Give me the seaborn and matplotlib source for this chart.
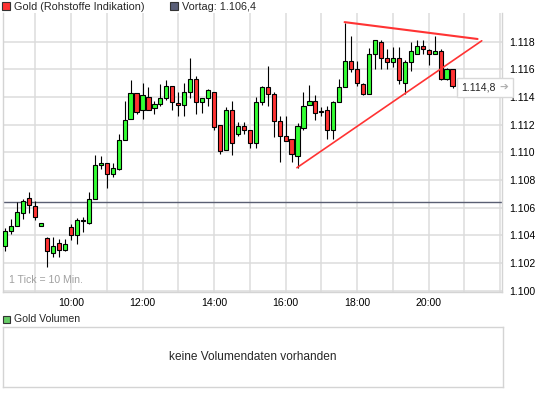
import matplotlib
matplotlib.use("Agg")
import matplotlib.pyplot as plt
from matplotlib.patches import Rectangle
import seaborn as sns
import numpy as np

# 10-minute candles, Gold (Rohstoffe Indikation), first candle 8:10
opens = [1103.2, 1104.3, 1104.7, 1105.6, 1106.7, 1106.1, 1104.65, 1103.8, 1102.75, 1103.45,
         1102.95, 1104.6, 1104.0, 1105.1, 1104.9, 1106.6, 1109.1, 1109.2, 1108.4, 1108.8,
         1110.9, 1112.4, 1114.3, 1113.1, 1114.0, 1113.2, 1113.5, 1113.9, 1114.8, 1113.6,
         1113.45, 1114.4, 1115.3, 1113.65, 1113.9, 1114.4, 1112.0, 1110.2, 1113.1, 1111.3,
         1111.9, 1111.6, 1110.65, 1113.65, 1114.7, 1114.2, 1112.3, 1111.15, 1111.0, 1109.75,
         1111.75, 1113.45, 1113.7, 1112.95, 1113.1, 1111.65, 1113.65, 1114.7, 1116.6, 1116.05,
         1114.95, 1114.25, 1117.1, 1118.0, 1116.85, 1116.5, 1116.85, 1115.05, 1116.55, 1117.15,
         1117.7, 1117.4, 1117.1, 1117.35, 1115.3, 1116.05]
highs = [1104.5, 1105.2, 1106.4, 1106.6, 1107.1, 1106.5, 1104.9, 1103.9, 1103.9, 1103.7,
         1103.75, 1104.85, 1105.25, 1105.3, 1107.1, 1109.8, 1109.75, 1109.2, 1109.2, 1111.3,
         1113.7, 1115.2, 1114.3, 1115.0, 1114.75, 1113.75, 1114.95, 1115.2, 1114.8, 1114.4,
         1115.0, 1116.85, 1115.5, 1113.9, 1114.6, 1114.4, 1112.0, 1113.25, 1113.7, 1112.2,
         1112.2, 1111.6, 1114.0, 1114.8, 1116.25, 1114.4, 1112.6, 1112.65, 1111.0, 1112.1,
         1114.4, 1114.9, 1114.15, 1113.3, 1113.35, 1113.7, 1115.3, 1119.35, 1118.45, 1116.6,
         1115.0, 1117.55, 1118.15, 1118.15, 1117.45, 1117.65, 1117.65, 1116.7, 1118.0, 1118.15,
         1118.1, 1117.5, 1118.4, 1117.45, 1116.1, 1116.05]
lows = [1102.9, 1104.1, 1104.7, 1105.2, 1105.6, 1105.1, 1104.65, 1101.7, 1102.4, 1102.4,
        1102.85, 1103.65, 1103.4, 1104.25, 1104.85, 1106.6, 1108.8, 1107.4, 1108.2, 1108.7,
        1110.9, 1112.4, 1112.8, 1112.4, 1113.1, 1112.8, 1113.35, 1113.8, 1113.1, 1112.65,
        1112.6, 1113.95, 1112.8, 1112.85, 1113.35, 1111.6, 1109.85, 1110.15, 1109.8, 1111.15,
        1111.35, 1110.35, 1110.35, 1113.4, 1113.35, 1111.1, 1109.3, 1110.85, 1109.3, 1108.85,
        1111.65, 1113.45, 1112.35, 1112.6, 1110.95, 1110.95, 1113.65, 1114.7, 1115.8, 1114.8,
        1114.15, 1114.25, 1116.05, 1116.05, 1116.05, 1116.2, 1114.95, 1114.25, 1115.9, 1117.15,
        1117.15, 1116.35, 1117.1, 1115.2, 1115.2, 1114.65]
closes = [1104.3, 1104.7, 1105.7, 1106.5, 1106.2, 1105.3, 1104.9, 1102.9, 1103.25, 1102.95,
          1103.4, 1104.0, 1105.1, 1105.0, 1106.6, 1109.1, 1109.2, 1108.4, 1108.9, 1110.9,
          1112.35, 1114.3, 1112.95, 1114.15, 1113.1, 1113.5, 1113.95, 1114.8, 1113.65, 1113.4,
          1114.4, 1115.3, 1113.65, 1113.9, 1114.5, 1111.85, 1110.1, 1113.1, 1110.7, 1111.9,
          1111.65, 1110.65, 1113.65, 1114.7, 1114.2, 1112.3, 1111.15, 1110.85, 1109.85, 1111.9,
          1113.35, 1113.75, 1112.85, 1112.95, 1111.65, 1113.65, 1114.7, 1116.6, 1116.05, 1115.05,
          1114.25, 1117.1, 1118.1, 1116.85, 1116.5, 1116.8, 1115.2, 1116.55, 1117.35, 1117.7,
          1117.5, 1117.1, 1117.35, 1115.3, 1116.05, 1114.8]
start_minute = 8 * 60 + 10
vortag = 1106.4
last_price = 1114.8

# hand-drawn triangle lines (minutes since midnight, price)
upper_x = [1059, 1282]
upper_y = [1119.42, 1118.20]
lower_x = [979, 1289]
lower_y = [1108.89, 1118.07]

y_ticks = [1100, 1102, 1104, 1106, 1108, 1110, 1112, 1114, 1116, 1118]
hour_grid = list(range(9, 23))
hour_labels = [10, 12, 14, 16, 18, 20]

W, H = 545, 395


def fx(px):
    return px / W


def fy(py):
    return 1 - py / H


sns.set_style("white")
plt.rcParams['font.family'] = ['Liberation Sans', 'DejaVu Sans']

fig = plt.figure(figsize=(W / 100, H / 100), dpi=100)
ax = fig.add_axes([fx(3), fy(292), fx(502) - fx(3), fy(13) - fy(292)])

times = start_minute + 10 * np.arange(len(opens))
o = np.array(opens)
c = np.array(closes)
up = c >= o
cols = np.where(up, "#33ff33", "#ff3333")

ax.vlines(times, lows, highs, color="black", lw=0.8, zorder=3)
body = np.maximum(np.abs(c - o), 0.02)
ax.bar(times, body, bottom=np.minimum(o, c), width=7.0, color=cols,
       edgecolor="black", linewidth=0.8, zorder=4)

ax.axhline(vortag, color="#5a5f73", lw=1.0, zorder=2)

sns.lineplot(x=upper_x, y=upper_y, ax=ax, color="#ff3333", lw=1.5, zorder=5)
sns.lineplot(x=lower_x, y=lower_y, ax=ax, color="#ff3333", lw=1.2, zorder=5)

ax.set_xlim(486, 1323)
ax.set_ylim(1099.9, 1120.08)

ax.set_xticks([h * 60 for h in hour_grid])
ax.set_xticklabels(["%d:00" % h if h in hour_labels else "" for h in hour_grid])
ax.set_yticks(y_ticks)
ax.set_yticklabels([("%d" % v)[0] + "." + ("%d" % v)[1:] for v in y_ticks])
ax.yaxis.tick_right()
ax.tick_params(axis="both", length=0, labelsize=7.6, colors="black")
ax.tick_params(axis="y", pad=5)
ax.tick_params(axis="x", pad=4)
ax.grid(True, color="#dcdcdc", lw=1.1, zorder=0)
ax.set_axisbelow(True)
for side in ["left", "right", "bottom"]:
    ax.spines[side].set_color("#d4d4d4")
    ax.spines[side].set_linewidth(1.0)
ax.spines["top"].set_visible(False)
ax.set_xlabel("")
ax.set_ylabel("")

ax.text(fx(8) / (fx(502) - fx(3)) - 0.005, 0.025, "1 Tick = 10 Min.", transform=ax.transAxes,
        color="#a0a0a0", fontsize=7.6, ha="left", va="bottom")

# header legend
fig.patches.append(Rectangle((fx(2), fy(10)), 8 / W, 8 / H, transform=fig.transFigure,
                             facecolor="#ff3333", edgecolor="#333333", lw=0.8))
fig.text(fx(14), fy(6.5), "Gold (Rohstoffe Indikation)", fontsize=7.8, va="center", ha="left")
fig.patches.append(Rectangle((fx(170), fy(10)), 8 / W, 8 / H, transform=fig.transFigure,
                             facecolor="#5a5f78", edgecolor="#333333", lw=0.8))
fig.text(fx(182), fy(6.5), "Vortag: 1.106,4", fontsize=7.8, va="center", ha="left")

# last price box
fig.patches.append(Rectangle((fx(457), fy(97)), 56 / W, 19 / H, transform=fig.transFigure,
                             facecolor="white", edgecolor="#d8d8d8", lw=1.0, zorder=10))
fig.text(fx(461), fy(87.5), "1.114,8", fontsize=7.6, va="center", ha="left", zorder=11)
fig.text(fx(499), fy(87.5), "\u2794", fontsize=7.6, va="center", ha="left", color="#b0b0b0",
         family=["DejaVu Sans"], zorder=11)

# volume panel
fig.patches.append(Rectangle((fx(3), fy(323)), 7 / W, 7 / H, transform=fig.transFigure,
                             facecolor="#66cc66", edgecolor="#333333", lw=0.8))
fig.text(fx(14), fy(319.5), "Gold Volumen", fontsize=7.6, va="center", ha="left")
vax = fig.add_axes([fx(3), fy(387), fx(503) - fx(3), fy(327) - fy(387)])
vax.set_xticks([])
vax.set_yticks([])
for side in vax.spines.values():
    side.set_color("#d4d4d4")
    side.set_linewidth(1.0)
vax.text(0.5, 0.5, "keine Volumendaten vorhanden", transform=vax.transAxes,
         ha="center", va="center", fontsize=8.6)

fig.savefig("out.png", dpi=100)
